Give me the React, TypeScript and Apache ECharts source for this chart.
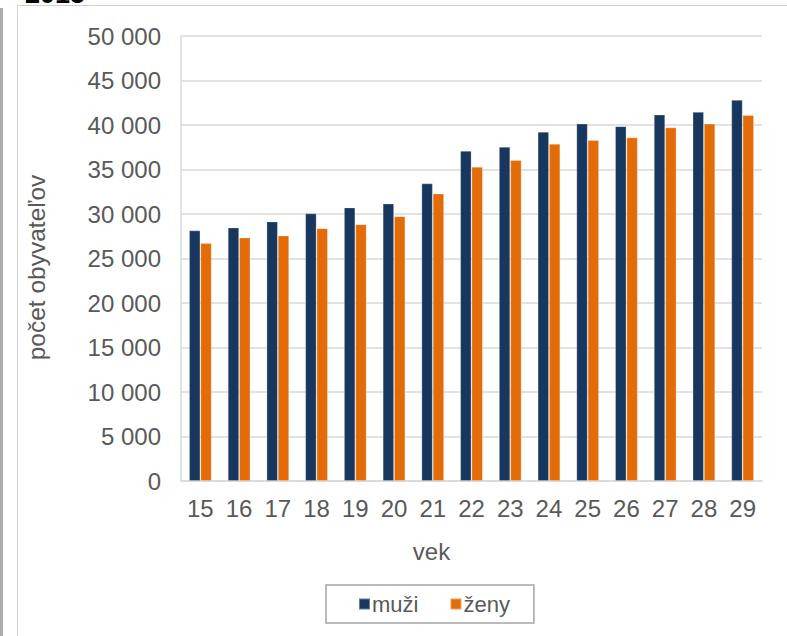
import React, { useEffect, useRef } from "react";
import * as echarts from "echarts";

const categories = ["15", "16", "17", "18", "19", "20", "21", "22", "23", "24", "25", "26", "27", "28", "29"];
const muzi = [28150, 28480, 29160, 30060, 30730, 31180, 33430, 37100, 37550, 39240, 40150, 39860, 41170, 41470, 42820];
const zeny = [26720, 27360, 27580, 28400, 28850, 29750, 32300, 35300, 36050, 37890, 38300, 38600, 39730, 40150, 41120];
const seriesNames = ["muži", "ženy"];
const titleText = "2015";
const xName = "vek";
const yName = "počet obyvateľov";

const FONT = "'Liberation Sans', Arial, sans-serif";
const TXT = "#595959";

function fmt(v: number) {
  if (v === 0) return "0";
  const s = String(Math.round(v));
  return s.replace(/\B(?=(\d{3})+(?!\d))/g, " ");
}

export default function App() {
  const ref = useRef<HTMLDivElement>(null);
  useEffect(() => {
    if (!ref.current) return;
    const chart = echarts.init(ref.current, null, { renderer: "svg" });
    chart.setOption({
      animation: false,
      backgroundColor: "#ffffff",
      textStyle: { fontFamily: FONT },
      graphic: [
        { type: "rect", shape: { x: 0, y: 8, width: 3, height: 640 }, style: { fill: "#ababab" } },
        { type: "rect", shape: { x: 17.5, y: 5.5, width: 900, height: 700 }, style: { fill: "none", stroke: "#d0d0d0", lineWidth: 1 } },
        {
          type: "text",
          x: 25,
          y: 7,
          style: { text: titleText, font: `bold 27px ${FONT}`, fill: "#000000", verticalAlign: "bottom", align: "left" },
        },
      ],
      grid: { left: 181, right: 25, top: 36, bottom: 155, containLabel: false },
      legend: {
        data: seriesNames,
        left: 326,
        top: 585,
        orient: "horizontal",
        itemWidth: 11,
        itemHeight: 11,
        itemGap: 31,
        icon: "rect",
        padding: [8, 24, 8, 32],
        borderColor: "#a6a6a6",
        borderWidth: 1.5,
        textStyle: { color: TXT, fontSize: 22, fontFamily: FONT, padding: [0, 0, 0, -3] },
      },
      xAxis: {
        type: "category",
        data: categories,
        name: xName,
        nameLocation: "middle",
        nameGap: 58,
        nameTextStyle: { color: TXT, fontSize: 24, fontFamily: FONT, padding: [0, 80, 0, 0] },
        axisTick: { show: false },
        axisLine: { show: true, lineStyle: { color: "#d9d9d9", width: 1.5 } },
        axisLabel: { color: TXT, fontSize: 24, fontFamily: FONT, margin: 15, interval: 0 },
      },
      yAxis: {
        type: "value",
        min: 0,
        max: 50000,
        interval: 5000,
        name: yName,
        nameLocation: "middle",
        nameGap: 132,
        nameTextStyle: { color: TXT, fontSize: 24.5, fontFamily: FONT, padding: [0, 18, 0, 0] },
        axisLine: { show: true, lineStyle: { color: "#d9d9d9", width: 1.5 } },
        axisTick: { show: false },
        splitLine: { show: true, lineStyle: { color: "#d9d9d9", width: 1.5 } },
        axisLabel: { color: TXT, fontSize: 24, fontFamily: FONT, margin: 20, formatter: (v: number) => fmt(v) },
      },
      series: [
        {
          name: seriesNames[0],
          type: "bar",
          data: muzi,
          barWidth: 11.3,
          barGap: "0%",
          itemStyle: { color: "#17375E", borderColor: "rgba(255,255,255,0.35)", borderWidth: 0.8 },
        },
        {
          name: seriesNames[1],
          type: "bar",
          data: zeny,
          barWidth: 11.3,
          barGap: "0%",
          itemStyle: { color: "#E36C09", borderColor: "rgba(255,255,255,0.35)", borderWidth: 0.8 },
        },
      ],
    });
    return () => chart.dispose();
  }, []);
  return <div ref={ref} style={{ position: "absolute", left: 0, top: 0, width: 787, height: 636 }} />;
}
